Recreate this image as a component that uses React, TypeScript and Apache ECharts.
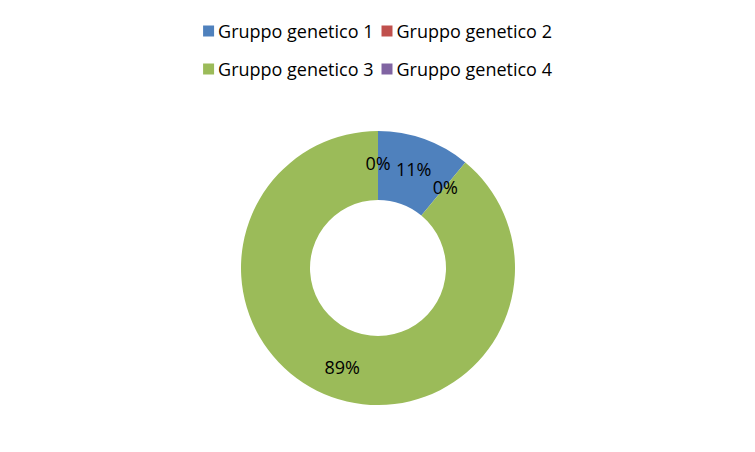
import React, { useEffect, useRef } from "react";
import * as echarts from "echarts";

const categories = ["Gruppo genetico 1", "Gruppo genetico 2", "Gruppo genetico 3", "Gruppo genetico 4"];
const values = [11, 0, 89, 0];
const colors = ["#4F81BD", "#C0504D", "#9BBB59", "#8064A2"];

const FONT = "'Open Sans', 'Noto Sans', sans-serif";

export default function App() {
  const ref = useRef<HTMLDivElement>(null);
  useEffect(() => {
    document.body.style.margin = "0";
    const chart = echarts.init(ref.current!, null, { renderer: "svg" });
    const legendCommon = {
      orient: "horizontal" as const,
      left: "center",
      icon: "rect",
      itemWidth: 11,
      itemHeight: 11,
      itemGap: 8,
      textStyle: { fontFamily: FONT, fontSize: 18, color: "#000", padding: [0, 0, 0, -1] },
      selectedMode: false,
    };
    chart.setOption({
      animation: false,
      color: colors,
      legend: [
        { ...legendCommon, top: 17, data: categories.slice(0, 2) },
        { ...legendCommon, top: 55, data: categories.slice(2, 4) },
      ],
      series: [
        {
          type: "pie",
          center: [378, 268],
          radius: [68, 137],
          startAngle: 90,
          clockwise: true,
          avoidLabelOverlap: false,
          label: {
            show: true,
            position: "inside",
            formatter: "{d}%",
            fontFamily: FONT,
            fontSize: 18,
            color: "#000",
          },
          labelLine: { show: false },
          emphasis: { disabled: true },
          itemStyle: { borderWidth: 0 },
          data: categories.map((name, i) => ({ name, value: values[i] })),
        },
      ],
    });
    return () => chart.dispose();
  }, []);
  return <div ref={ref} style={{ width: 755, height: 452 }} />;
}
